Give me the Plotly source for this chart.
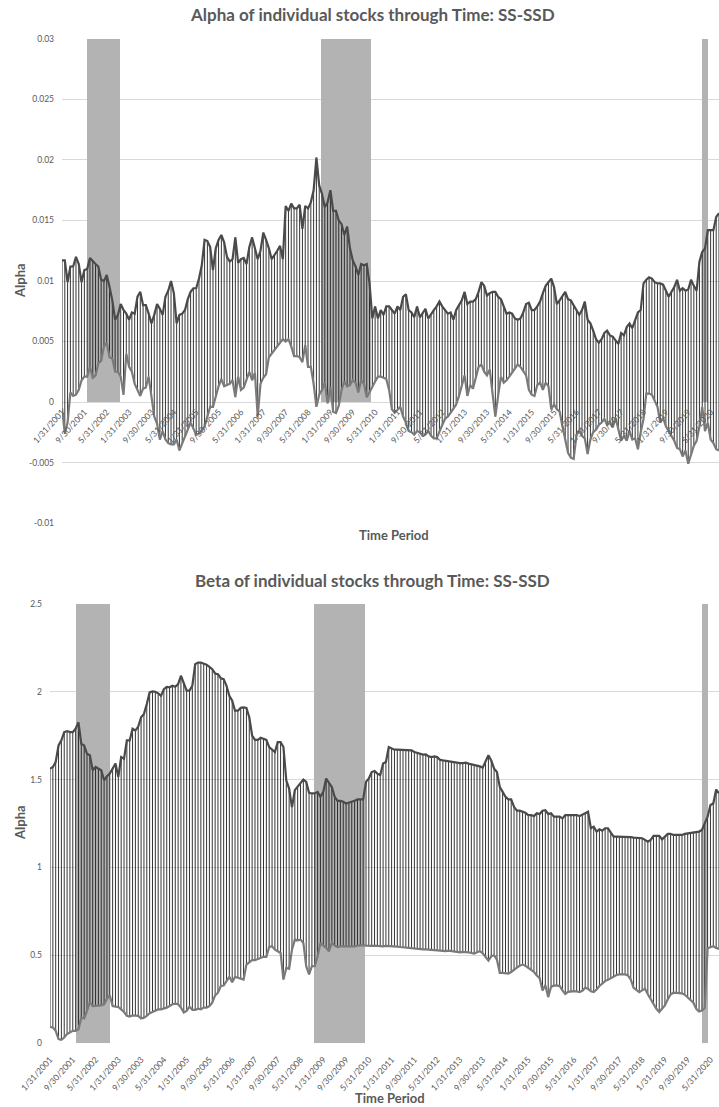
import plotly.graph_objects as go
import pandas as pd

# ---------------- data ----------------
months = [f"{d.month}/{d.day}/{d.year}" for d in pd.date_range("2001-01-31", periods=236, freq="ME")]

tick_labels = ["1/31/2001", "9/30/2001", "5/31/2002", "1/31/2003", "9/30/2003", "5/31/2004",
               "1/31/2005", "9/30/2005", "5/31/2006", "1/31/2007", "9/30/2007", "5/31/2008",
               "1/31/2009", "9/30/2009", "5/31/2010", "1/31/2011", "9/30/2011", "5/31/2012",
               "1/31/2013", "9/30/2013", "5/31/2014", "1/31/2015", "9/30/2015", "5/31/2016",
               "1/31/2017", "9/30/2017", "5/31/2018", "1/31/2019", "9/30/2019", "5/31/2020"]

recession_periods = [("10/31/2001", "9/30/2002"), ("10/31/2008", "3/31/2010"), ("3/31/2020", "4/30/2020")]

alpha_high = [
    0.0117, 0.0117, 0.0099, 0.0112, 0.0112, 0.0120, 0.0114, 0.0099, 0.0109, 0.0110,
    0.0119, 0.0116, 0.0114, 0.0112, 0.0101, 0.0100, 0.0105, 0.0095, 0.0084, 0.0068,
    0.0072, 0.0081, 0.0076, 0.0073, 0.0068, 0.0074, 0.0073, 0.0087, 0.0091, 0.0080,
    0.0080, 0.0073, 0.0065, 0.0072, 0.0081, 0.0077, 0.0072, 0.0087, 0.0092, 0.0100,
    0.0090, 0.0065, 0.0072, 0.0073, 0.0076, 0.0085, 0.0091, 0.0094, 0.0094, 0.0102,
    0.0113, 0.0134, 0.0133, 0.0128, 0.0109, 0.0127, 0.0134, 0.0138, 0.0132, 0.0120,
    0.0116, 0.0118, 0.0136, 0.0115, 0.0118, 0.0119, 0.0114, 0.0128, 0.0136, 0.0127,
    0.0118, 0.0125, 0.0140, 0.0134, 0.0127, 0.0118, 0.0121, 0.0125, 0.0129, 0.0118,
    0.0162, 0.0158, 0.0164, 0.0160, 0.0160, 0.0163, 0.0143, 0.0162, 0.0160, 0.0165,
    0.0175, 0.0202, 0.0179, 0.0172, 0.0161, 0.0165, 0.0175, 0.0158, 0.0158, 0.0150,
    0.0147, 0.0138, 0.0145, 0.0127, 0.0117, 0.0112, 0.0105, 0.0114, 0.0113, 0.0114,
    0.0098, 0.0069, 0.0079, 0.0069, 0.0076, 0.0072, 0.0079, 0.0079, 0.0076, 0.0073,
    0.0079, 0.0076, 0.0087, 0.0089, 0.0076, 0.0074, 0.0070, 0.0079, 0.0070, 0.0073,
    0.0077, 0.0069, 0.0073, 0.0076, 0.0079, 0.0083, 0.0079, 0.0076, 0.0073, 0.0074,
    0.0068, 0.0076, 0.0080, 0.0084, 0.0091, 0.0081, 0.0083, 0.0083, 0.0085, 0.0091,
    0.0099, 0.0096, 0.0088, 0.0090, 0.0091, 0.0091, 0.0087, 0.0085, 0.0079, 0.0073,
    0.0074, 0.0073, 0.0069, 0.0068, 0.0069, 0.0074, 0.0081, 0.0082, 0.0076, 0.0076,
    0.0079, 0.0083, 0.0090, 0.0096, 0.0099, 0.0102, 0.0095, 0.0081, 0.0084, 0.0087,
    0.0091, 0.0085, 0.0084, 0.0080, 0.0076, 0.0072, 0.0076, 0.0083, 0.0068, 0.0065,
    0.0059, 0.0052, 0.0049, 0.0052, 0.0057, 0.0059, 0.0055, 0.0054, 0.0051, 0.0048,
    0.0057, 0.0055, 0.0062, 0.0065, 0.0061, 0.0068, 0.0074, 0.0076, 0.0098, 0.0101,
    0.0103, 0.0102, 0.0099, 0.0098, 0.0098, 0.0097, 0.0092, 0.0087, 0.0091, 0.0095,
    0.0101, 0.0092, 0.0094, 0.0092, 0.0093, 0.0101, 0.0096, 0.0092, 0.0116, 0.0124,
    0.0127, 0.0142, 0.0142, 0.0142, 0.0153, 0.0156,
]

alpha_low = [
    -0.0005, -0.0026, -0.0017, 0.0008, 0.0005, 0.0006, 0.0010, 0.0018, 0.0021, 0.0021,
    0.0029, 0.0020, 0.0022, 0.0032, 0.0034, 0.0046, 0.0049, 0.0037, 0.0036, 0.0025,
    0.0025, 0.0021, 0.0006, 0.0040, 0.0029, 0.0025, 0.0015, 0.0010, 0.0005, 0.0011,
    0.0012, 0.0021, 0.0004, -0.0012, -0.0018, -0.0031, -0.0024, -0.0031, -0.0034, -0.0035,
    -0.0035, -0.0031, -0.0040, -0.0034, -0.0028, -0.0023, -0.0017, -0.0022, -0.0027, -0.0026,
    -0.0024, -0.0020, -0.0012, -0.0004, -0.0004, 0.0005, 0.0013, 0.0019, 0.0013, 0.0014,
    0.0015, 0.0018, 0.0004, 0.0021, 0.0010, 0.0012, 0.0019, 0.0025, 0.0018, 0.0024,
    -0.0012, 0.0015, 0.0020, 0.0023, 0.0037, 0.0040, 0.0043, 0.0046, 0.0050, 0.0052,
    0.0050, 0.0052, 0.0046, 0.0038, 0.0038, 0.0037, 0.0033, 0.0047, 0.0029, 0.0029,
    0.0015, -0.0004, 0.0006, 0.0010, 0.0016, -0.0001, 0.0012, -0.0008, -0.0009, -0.0003,
    0.0010, 0.0017, 0.0013, 0.0014, 0.0018, 0.0016, 0.0008, 0.0018, 0.0015, 0.0004,
    0.0008, 0.0013, 0.0017, 0.0021, 0.0021, 0.0020, 0.0019, 0.0010, -0.0006, -0.0009,
    -0.0006, -0.0004, -0.0012, -0.0017, -0.0024, -0.0025, -0.0027, -0.0024, -0.0025, -0.0028,
    -0.0027, -0.0024, -0.0028, -0.0030, -0.0030, -0.0024, -0.0019, -0.0014, -0.0012, -0.0009,
    -0.0005, -0.0002, 0.0005, 0.0013, 0.0022, 0.0005, 0.0014, 0.0011, 0.0021, 0.0029,
    0.0031, 0.0025, 0.0022, 0.0027, 0.0007, -0.0012, 0.0005, 0.0021, 0.0016, 0.0018,
    0.0021, 0.0024, 0.0028, 0.0031, 0.0029, 0.0025, 0.0022, 0.0010, 0.0006, 0.0005,
    0.0014, 0.0016, 0.0010, 0.0016, 0.0013, -0.0006, -0.0002, -0.0006, -0.0008, -0.0020,
    -0.0032, -0.0042, -0.0046, -0.0047, -0.0028, -0.0023, -0.0028, -0.0030, -0.0043, -0.0031,
    -0.0025, -0.0023, -0.0019, -0.0017, -0.0014, -0.0019, -0.0017, -0.0021, -0.0013, -0.0023,
    -0.0032, -0.0028, -0.0032, -0.0024, -0.0031, -0.0030, -0.0039, -0.0025, -0.0014, 0.0007,
    0.0007, 0.0006, 0.0001, -0.0004, -0.0017, -0.0013, -0.0020, -0.0024, -0.0027, -0.0032,
    -0.0038, -0.0039, -0.0045, -0.0040, -0.0051, -0.0043, -0.0036, -0.0032, -0.0020, -0.0004,
    -0.0024, -0.0017, -0.0031, -0.0034, -0.0039, -0.0040,
]

beta_high = [
    1.562, 1.572, 1.600, 1.694, 1.723, 1.770, 1.776, 1.770, 1.770, 1.789,
    1.826, 1.704, 1.694, 1.647, 1.638, 1.553, 1.572, 1.562, 1.553, 1.496,
    1.519, 1.534, 1.562, 1.591, 1.515, 1.628, 1.619, 1.723, 1.723, 1.789,
    1.779, 1.802, 1.855, 1.874, 1.930, 1.996, 2.002, 2.000, 1.991, 1.977,
    2.015, 2.028, 2.025, 2.034, 2.028, 2.043, 2.091, 2.053, 2.006, 2.006,
    2.034, 2.157, 2.166, 2.166, 2.160, 2.153, 2.142, 2.128, 2.104, 2.100,
    2.077, 2.072, 2.034, 1.977, 1.949, 1.892, 1.892, 1.908, 1.911, 1.908,
    1.855, 1.751, 1.726, 1.726, 1.738, 1.732, 1.726, 1.685, 1.670, 1.657,
    1.713, 1.713, 1.685, 1.496, 1.449, 1.342, 1.440, 1.458, 1.481, 1.500,
    1.487, 1.425, 1.421, 1.421, 1.430, 1.402, 1.430, 1.506, 1.481, 1.458,
    1.402, 1.379, 1.379, 1.374, 1.364, 1.368, 1.372, 1.379, 1.387, 1.387,
    1.387, 1.487, 1.506, 1.543, 1.549, 1.534, 1.525, 1.591, 1.600, 1.685,
    1.675, 1.670, 1.670, 1.670, 1.670, 1.670, 1.670, 1.666, 1.657, 1.651,
    1.647, 1.642, 1.643, 1.632, 1.628, 1.632, 1.628, 1.613, 1.609, 1.606,
    1.604, 1.600, 1.596, 1.594, 1.594, 1.594, 1.596, 1.591, 1.587, 1.581,
    1.581, 1.575, 1.568, 1.600, 1.638, 1.609, 1.562, 1.543, 1.458, 1.430,
    1.402, 1.387, 1.387, 1.345, 1.323, 1.323, 1.317, 1.311, 1.298, 1.298,
    1.292, 1.308, 1.304, 1.323, 1.326, 1.304, 1.308, 1.289, 1.289, 1.289,
    1.279, 1.298, 1.298, 1.298, 1.298, 1.298, 1.292, 1.298, 1.308, 1.317,
    1.223, 1.232, 1.204, 1.217, 1.209, 1.223, 1.223, 1.198, 1.175, 1.175,
    1.175, 1.175, 1.175, 1.175, 1.172, 1.170, 1.170, 1.166, 1.166, 1.157,
    1.147, 1.157, 1.179, 1.179, 1.179, 1.160, 1.175, 1.191, 1.191, 1.185,
    1.185, 1.185, 1.185, 1.191, 1.194, 1.198, 1.202, 1.204, 1.204, 1.213,
    1.251, 1.289, 1.355, 1.364, 1.443, 1.421,
]

beta_low = [
    0.092, 0.089, 0.070, 0.023, 0.019, 0.032, 0.051, 0.060, 0.070, 0.070,
    0.079, 0.145, 0.140, 0.183, 0.234, 0.211, 0.211, 0.211, 0.215, 0.221,
    0.253, 0.272, 0.211, 0.208, 0.206, 0.192, 0.177, 0.155, 0.151, 0.158,
    0.158, 0.155, 0.140, 0.145, 0.155, 0.170, 0.177, 0.183, 0.192, 0.192,
    0.196, 0.202, 0.211, 0.221, 0.225, 0.221, 0.202, 0.174, 0.183, 0.208,
    0.189, 0.189, 0.196, 0.192, 0.202, 0.202, 0.211, 0.230, 0.272, 0.287,
    0.325, 0.328, 0.353, 0.377, 0.347, 0.377, 0.372, 0.366, 0.362, 0.447,
    0.460, 0.472, 0.472, 0.479, 0.485, 0.491, 0.491, 0.547, 0.551, 0.532,
    0.523, 0.513, 0.362, 0.428, 0.423, 0.532, 0.589, 0.585, 0.589, 0.570,
    0.438, 0.391, 0.438, 0.438, 0.494, 0.570, 0.555, 0.542, 0.523, 0.570,
    0.555, 0.547, 0.551, 0.551, 0.547, 0.547, 0.547, 0.551, 0.555, 0.558,
    0.558, 0.555, 0.553, 0.553, 0.555, 0.553, 0.553, 0.551, 0.553, 0.553,
    0.551, 0.551, 0.549, 0.547, 0.545, 0.542, 0.540, 0.540, 0.538, 0.536,
    0.536, 0.534, 0.534, 0.532, 0.530, 0.528, 0.528, 0.526, 0.524, 0.524,
    0.526, 0.523, 0.519, 0.517, 0.517, 0.519, 0.519, 0.517, 0.513, 0.509,
    0.517, 0.523, 0.511, 0.487, 0.470, 0.494, 0.500, 0.475, 0.400, 0.400,
    0.400, 0.396, 0.405, 0.420, 0.430, 0.440, 0.447, 0.440, 0.430, 0.415,
    0.405, 0.385, 0.370, 0.300, 0.330, 0.262, 0.320, 0.328, 0.328, 0.326,
    0.300, 0.280, 0.292, 0.296, 0.296, 0.294, 0.290, 0.298, 0.315, 0.309,
    0.295, 0.291, 0.305, 0.325, 0.340, 0.353, 0.360, 0.368, 0.380, 0.388,
    0.391, 0.391, 0.391, 0.385, 0.362, 0.315, 0.300, 0.290, 0.300, 0.309,
    0.278, 0.250, 0.222, 0.195, 0.177, 0.195, 0.215, 0.250, 0.277, 0.287,
    0.287, 0.285, 0.283, 0.275, 0.260, 0.245, 0.230, 0.195, 0.180, 0.185,
    0.200, 0.540, 0.547, 0.551, 0.542, 0.536,
]

alpha_ticks = [-0.01, -0.005, 0, 0.005, 0.01, 0.015, 0.02, 0.025, 0.03]
alpha_tick_text = ["-0.01", "-0.005", "0", "0.005", "0.01", "0.015", "0.02", "0.025", "0.03"]
beta_ticks = [0, 0.5, 1, 1.5, 2, 2.5]
beta_tick_text = ["0", "0.5", "1", "1.5", "2", "2.5"]

# ---------------- layout geometry ----------------
W, H = 719, 1107
FONT = "Lato"
TXT = "#595959"
GRID = "#d9d9d9"
REC = "#b3b3b3"
HI_C = "#4a4a4a"
LO_C = "#7a7a7a"
HL_C = "#1e1e1e"

n = len(months)
idx = list(range(n))
pos = {m: i for i, m in enumerate(months)}
rec_flag = [0] * n
for a, b in recession_periods:
    for k in range(pos[a], pos[b] + 1):
        rec_flag[k] = 1


def fx(px):
    return px / W


def fy(py):
    return 1 - py / H


top_x = [fx(62), 1]
top_y = [fy(524), fy(38)]
bot_x = [fx(50), 1]
bot_y = [fy(1044), fy(603)]

a_min, a_max = -0.01, 0.03
b_min, b_max = 0, 2.5


def hl(lo, hi):
    xs, ys = [], []
    for i, (l, h) in enumerate(zip(lo, hi)):
        xs += [i, i, None]
        ys += [l, h, None]
    return xs, ys


fig = go.Figure()

# recession shading (bars on a 'between tick marks' axis)
fig.add_trace(go.Bar(x=idx, y=[f * a_max for f in rec_flag], marker=dict(color=REC, line=dict(width=0)),
                     width=1, xaxis="x", yaxis="y", hoverinfo="skip", showlegend=False))
fig.add_trace(go.Bar(x=idx, y=[f * b_max for f in rec_flag], marker=dict(color=REC, line=dict(width=0)),
                     width=1, xaxis="x3", yaxis="y2", hoverinfo="skip", showlegend=False))

# high-low lines + series
hx, hy = hl(alpha_low, alpha_high)
fig.add_trace(go.Scatter(x=hx, y=hy, mode="lines", line=dict(color=HL_C, width=0.9),
                         xaxis="x2", yaxis="y", hoverinfo="skip", showlegend=False))
fig.add_trace(go.Scatter(x=idx, y=alpha_high, mode="lines", line=dict(color=HI_C, width=2.2),
                         xaxis="x2", yaxis="y", text=months, showlegend=False))
fig.add_trace(go.Scatter(x=idx, y=alpha_low, mode="lines", line=dict(color=LO_C, width=2.2),
                         xaxis="x2", yaxis="y", text=months, showlegend=False))

hx, hy = hl(beta_low, beta_high)
fig.add_trace(go.Scatter(x=hx, y=hy, mode="lines", line=dict(color=HL_C, width=0.9),
                         xaxis="x4", yaxis="y2", hoverinfo="skip", showlegend=False))
fig.add_trace(go.Scatter(x=idx, y=beta_high, mode="lines", line=dict(color=HI_C, width=2.2),
                         xaxis="x4", yaxis="y2", text=months, showlegend=False))
fig.add_trace(go.Scatter(x=idx, y=beta_low, mode="lines", line=dict(color=LO_C, width=2.2),
                         xaxis="x4", yaxis="y2", text=months, showlegend=False))

ytickfont = dict(family=FONT, size=8.5, color=TXT)
xtickfont = dict(family=FONT, size=8.5, color=TXT)
tick_pos = [pos[t] for t in tick_labels]

zero_pos = top_y[0] + (0 - a_min) / (a_max - a_min) * (top_y[1] - top_y[0])
pad_a = (a_max - a_min) * 0.002
pad_b = (b_max - b_min) * 0.002

fig.update_layout(
    width=W, height=H, margin=dict(l=0, r=0, t=0, b=0),
    paper_bgcolor="white", plot_bgcolor="rgba(0,0,0,0)",
    bargap=0, barmode="overlay", showlegend=False,
    font=dict(family=FONT, color=TXT),
    xaxis=dict(domain=top_x, range=[-0.5, n - 0.5], anchor="y", showgrid=False, zeroline=False,
               showticklabels=False, ticks=""),
    xaxis2=dict(domain=top_x, range=[0, n - 1], overlaying="x", anchor="free", position=zero_pos,
                showgrid=False, zeroline=False, showline=False, ticks="",
                tickmode="array", tickvals=tick_pos, ticktext=tick_labels, tickangle=-48,
                tickfont=xtickfont, ticklabelstandoff=2, automargin=False),
    yaxis=dict(domain=top_y, range=[a_min - pad_a, a_max + pad_a], anchor="x", showgrid=True,
               gridcolor=GRID, gridwidth=1, zeroline=False, tickmode="array", tickvals=alpha_ticks,
               ticktext=alpha_tick_text, tickfont=ytickfont, ticks="", ticklabelstandoff=7, automargin=False),
    xaxis3=dict(domain=bot_x, range=[-0.5, n - 0.5], anchor="y2", showgrid=False, zeroline=False,
                showticklabels=False, ticks=""),
    xaxis4=dict(domain=bot_x, range=[0, n - 1], overlaying="x3", anchor="y2",
                showgrid=False, zeroline=False, showline=False, ticks="",
                tickmode="array", tickvals=tick_pos, ticktext=tick_labels, tickangle=-48,
                tickfont=xtickfont, ticklabelstandoff=8, automargin=False),
    yaxis2=dict(domain=bot_y, range=[b_min - pad_b, b_max + pad_b], anchor="x3", showgrid=True,
                gridcolor=GRID, gridwidth=1, zeroline=False, tickmode="array", tickvals=beta_ticks,
                ticktext=beta_tick_text, tickfont=ytickfont, ticks="", ticklabelstandoff=7, automargin=False),
)


def ann(text, xpx, ypx, size, angle=0):
    fig.add_annotation(text=text, x=fx(xpx), y=fy(ypx), xref="paper", yref="paper",
                       showarrow=False, textangle=angle, xanchor="center", yanchor="middle",
                       font=dict(family=FONT, size=size, color=TXT, weight="bold"))


ann("Alpha of individual stocks through Time: SS-SSD", 372, 14, 17)
ann("Beta of individual stocks through Time: SS-SSD", 372, 580, 17)
ann("Time Period", 394, 535, 13)
ann("Time Period", 390, 1098, 13)
ann("Alpha", 20, 281, 13, -90)
ann("Alpha", 20, 823, 13, -90)

# remove the default 8px page margin so the figure fills the window exactly
fig.write_html("out.html",
               config={"displayModeBar": False},
               post_script="document.body.style.margin='0px';document.body.style.overflow='hidden';")
